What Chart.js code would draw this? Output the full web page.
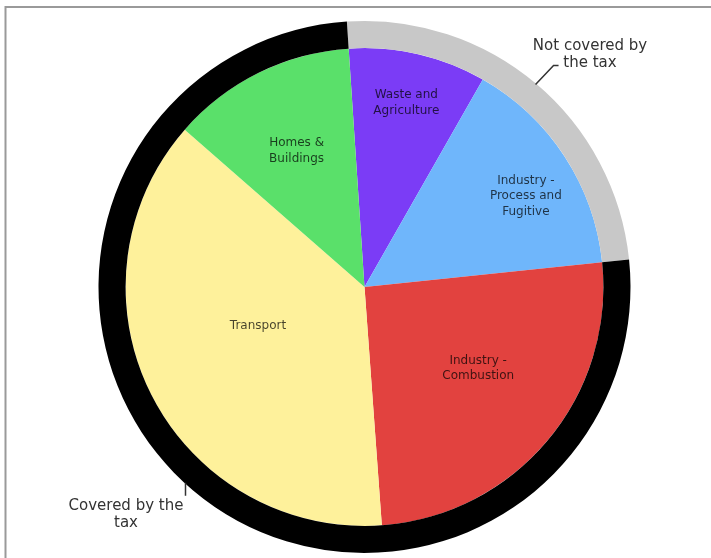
<!DOCTYPE html>
<html>
<head>
<meta charset="utf-8">
<script src="https://cdn.jsdelivr.net/npm/chart.js@4/dist/chart.umd.min.js"></script>
<style>
  html, body { margin: 0; padding: 0; background: #fff; }
  #wrap { position: relative; width: 711px; height: 558px; }
</style>
</head>
<body>
<div id="wrap"><canvas id="c" width="711" height="558"></canvas></div>
<script>
// Sectors (clockwise from the top)
const sectors = [
  ["Waste and", "Agriculture"],
  ["Industry -", "Process and", "Fugitive"],
  ["Industry -", "Combustion"],
  ["Transport"],
  ["Homes &", "Buildings"]
];
const sectorShares = [9.3, 15.1, 25.5, 37.6, 12.5];
const sectorColors = ["#7b3cf6", "#6fb6fb", "#e2423f", "#fef19b", "#5ae06a"];

// Outer ring: tax coverage
const coverageLabels = [["Not covered by", "the tax"], ["Covered by the", "tax"]];
const coverageShares = [24.4, 75.6];
const coverageColors = ["#c8c8c8", "#000000"];

// label placement styles (radius fraction, angle tweak in degrees)
const labelRadius = [0.79, 0.77, 0.58, 0.48, 0.64];
const labelAngleTweak = [-0.6, 3.5, -4, 6.8, -0.7];

const labelsPlugin = {
  id: 'labels',
  afterDatasetsDraw(chart) {
    const ctx = chart.ctx;
    const meta = chart.getDatasetMeta(1);
    ctx.save();
    ctx.font = '12px "DejaVu Sans", Verdana, sans-serif';
    ctx.fillStyle = 'rgba(0,0,0,0.72)';
    ctx.textAlign = 'center';
    ctx.textBaseline = 'middle';
    meta.data.forEach((arc, i) => {
      const p = arc.getProps(['x', 'y', 'startAngle', 'endAngle', 'outerRadius']);
      const a = (p.startAngle + p.endAngle) / 2 + labelAngleTweak[i] * Math.PI / 180;
      const r = p.outerRadius * labelRadius[i];
      const cx = p.x + Math.cos(a) * r;
      const cy = p.y + Math.sin(a) * r;
      const lines = sectors[i];
      const lh = 15.5;
      lines.forEach((t, k) => {
        ctx.fillText(t, cx + 1.5, cy + (k - (lines.length - 1) / 2) * lh);
      });
    });

    // outer annotations
    const m0 = chart.getDatasetMeta(0);
    const ring = m0.data[0].getProps(['x', 'y', 'outerRadius']);
    ctx.font = '15px "DejaVu Sans", Verdana, sans-serif';
    ctx.fillStyle = '#333';
    ctx.strokeStyle = '#333';
    ctx.lineWidth = 1.5;

    // Not covered
    const ang = (-90 + 40.2) * Math.PI / 180;
    const sx = ring.x + Math.cos(ang) * (ring.outerRadius - 1);
    const sy = ring.y + Math.sin(ang) * (ring.outerRadius - 1);
    ctx.beginPath();
    ctx.moveTo(sx, sy);
    ctx.lineTo(sx + 18, sy - 19);
    ctx.lineTo(sx + 23, sy - 19);
    ctx.stroke();
    ctx.fillText(coverageLabels[0][0], 590, 46);
    ctx.fillText(coverageLabels[0][1], 590, 63);

    // Covered
    const bx = 185.5;
    const by = ring.y + Math.sqrt(ring.outerRadius * ring.outerRadius - (bx - ring.x) * (bx - ring.x));
    ctx.beginPath();
    ctx.moveTo(bx, by - 1);
    ctx.lineTo(bx, by + 12);
    ctx.stroke();
    ctx.fillText(coverageLabels[1][0], 126, 506);
    ctx.fillText(coverageLabels[1][1], 126, 523);

    // frame
    ctx.strokeStyle = '#9a9a9a';
    ctx.lineWidth = 2;
    ctx.beginPath();
    ctx.moveTo(5.5, 558);
    ctx.lineTo(5.5, 7);
    ctx.lineTo(711, 7);
    ctx.stroke();
    ctx.restore();
  }
};

new Chart(document.getElementById('c'), {
  type: 'doughnut',
  data: {
    labels: sectors.map(s => s.join(' ')),
    datasets: [
      {
        data: coverageShares,
        backgroundColor: coverageColors,
        borderWidth: 0,
        weight: 27
      },
      {
        data: sectorShares,
        backgroundColor: sectorColors,
        borderWidth: 0,
        weight: 238
      }
    ]
  },
  options: {
    responsive: false,
    animation: false,
    cutout: 0,
    rotation: -3.8,
    layout: { padding: { left: 98, right: 80, top: 21, bottom: 5 } },
    plugins: {
      legend: { display: false },
      tooltip: { enabled: false }
    }
  },
  plugins: [labelsPlugin]
});
</script>
</body>
</html>
